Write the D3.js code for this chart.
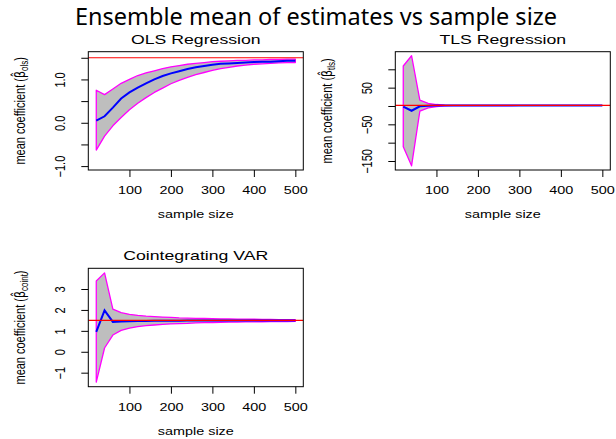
<!DOCTYPE html>
<html>
<head>
<meta charset="utf-8">
<script src="https://cdn.jsdelivr.net/npm/d3@7"></script>
<style>
  body { margin: 0; background: #fff; }
  text { font-family: "Liberation Sans", Arial, sans-serif; fill: #000; }
</style>
</head>
<body>
<div id="chart"></div>
<script>
// sample sizes used in the simulation
var sizes = [20, 40, 60, 80, 100, 120, 140, 160, 180, 200, 220, 240, 260,
             280, 300, 320, 340, 360, 380, 400, 420, 440, 460, 480, 500];

// true coefficient (red line)
var trueBeta = 1.5;

// OLS regression
var olsMean  = [0.05, 0.15, 0.35, 0.56, 0.70, 0.81, 0.91, 1.00, 1.08, 1.14, 1.19, 1.24, 1.28,
                1.31, 1.34, 1.36, 1.37, 1.38, 1.39, 1.40, 1.41, 1.41, 1.42, 1.43, 1.43];
var olsUpper = [0.75, 0.65, 0.78, 0.91, 1.00, 1.09, 1.15, 1.20, 1.25, 1.29, 1.32, 1.35, 1.37,
                1.39, 1.41, 1.42, 1.43, 1.44, 1.44, 1.45, 1.45, 1.46, 1.46, 1.47, 1.47];
var olsLower = [-0.63, -0.31, -0.07, 0.12, 0.30, 0.45, 0.58, 0.70, 0.80, 0.90, 0.98, 1.05, 1.11,
                1.16, 1.21, 1.25, 1.28, 1.31, 1.33, 1.35, 1.36, 1.37, 1.38, 1.39, 1.39];

// TLS regression
var tlsMean  = [-2, -13, -1, 0.5, 1.0, 1.2, 1.3, 1.35, 1.4, 1.42, 1.43, 1.44, 1.45,
                1.45, 1.46, 1.46, 1.47, 1.47, 1.47, 1.48, 1.48, 1.48, 1.48, 1.49, 1.49];
var tlsUpper = [109, 137, 16, 7, 4, 2.4, 1.9, 1.75, 1.68, 1.64, 1.62, 1.6, 1.59,
                1.58, 1.57, 1.56, 1.56, 1.55, 1.55, 1.55, 1.54, 1.54, 1.54, 1.54, 1.53];
var tlsLower = [-111, -163, -14, -5, -1.5, 0.5, 1.0, 1.2, 1.28, 1.32, 1.35, 1.37, 1.39,
                1.4, 1.41, 1.42, 1.42, 1.43, 1.43, 1.44, 1.44, 1.44, 1.45, 1.45, 1.45];

// cointegrating VAR
var varMean  = [0.95, 1.98, 1.43, 1.45, 1.46, 1.47, 1.47, 1.48, 1.48, 1.48, 1.48, 1.49, 1.49,
                1.49, 1.49, 1.49, 1.49, 1.49, 1.5, 1.5, 1.5, 1.5, 1.5, 1.5, 1.5];
var varUpper = [3.38, 3.77, 2.04, 1.87, 1.79, 1.74, 1.70, 1.68, 1.66, 1.64, 1.62, 1.61, 1.60,
                1.59, 1.58, 1.575, 1.57, 1.565, 1.56, 1.555, 1.55, 1.545, 1.54, 1.54, 1.535];
var varLower = [-1.45, 0.18, 0.80, 1.02, 1.13, 1.20, 1.25, 1.28, 1.31, 1.33, 1.35, 1.36, 1.38,
                1.39, 1.40, 1.41, 1.415, 1.42, 1.425, 1.43, 1.435, 1.44, 1.44, 1.445, 1.45];

// tick values / labels
var xTicks = [100, 200, 300, 400, 500];
var olsTicks = [-1, -0.5, 0, 0.5, 1, 1.5];
var olsTickLabels = ["\u22121.0", "", "0.0", "", "1.0", ""];
var tlsTicks = [-150, -100, -50, 0, 50, 100];
var tlsTickLabels = ["\u2212150", "", "\u221250", "", "50", ""];
var varTicks = [-1, 0, 1, 2, 3];
var varTickLabels = ["\u22121", "0", "1", "2", "3"];

var W = 616, H = 439;
var SX = 1.31; // horizontal stretch of the original raster text

var svg = d3.select("#chart").append("svg")
    .attr("width", W).attr("height", H)
    .style("background", "#fff");

svg.append("text")
    .attr("x", 316).attr("y", 24.8)
    .attr("text-anchor", "middle")
    .attr("textLength", 482)
    .attr("lengthAdjust", "spacingAndGlyphs")
    .style("font-family", "'Noto Sans', sans-serif")
    .style("font-size", "23px")
    .text("Ensemble mean of estimates vs sample size");

var panels = [
    {title: "OLS Regression", sub: "ols", left: 88.3, right: 303.3, top: 51.7, bottom: 170,
     ydom: [-1.09, 1.64], ticks: olsTicks, labels: olsTickLabels,
     mean: olsMean, upper: olsUpper, lower: olsLower},
    {title: "TLS Regression", sub: "tls", left: 395.3, right: 610.3, top: 51.7, bottom: 170,
     ydom: [-174.5, 148], ticks: tlsTicks, labels: tlsTickLabels,
     mean: tlsMean, upper: tlsUpper, lower: tlsLower},
    {title: "Cointegrating VAR", sub: "coint", left: 88.3, right: 303.3, top: 268.3, bottom: 386.7,
     ydom: [-1.67, 3.99], ticks: varTicks, labels: varTickLabels,
     mean: varMean, upper: varUpper, lower: varLower}
];

panels.forEach(function(p, i) {
    var x = d3.scaleLinear().domain([0.8, 519.2]).range([p.left, p.right]);
    var y = d3.scaleLinear().domain(p.ydom).range([p.bottom, p.top]);
    var cx = (p.left + p.right) / 2, cy = (p.top + p.bottom) / 2;

    var clipId = "clip" + i;
    svg.append("clipPath").attr("id", clipId)
        .append("rect")
        .attr("x", p.left).attr("y", p.top)
        .attr("width", p.right - p.left).attr("height", p.bottom - p.top);

    var g = svg.append("g").attr("clip-path", "url(#" + clipId + ")");

    // band polygon: upper forward, lower backward
    var pts = sizes.map(function(s, k) { return [x(s), y(p.upper[k])]; })
        .concat(sizes.map(function(s, k) { return [x(s), y(p.lower[k])]; }).reverse());
    g.append("path")
        .attr("d", "M" + pts.join("L") + "Z")
        .attr("fill", "#bebebe")
        .attr("stroke", "#ff00ff")
        .attr("stroke-width", 1.3)
        .attr("stroke-linejoin", "round");

    var line = d3.line()
        .x(function(d) { return x(d[0]); })
        .y(function(d) { return y(d[1]); });
    g.append("path")
        .attr("d", line(d3.zip(sizes, p.mean)))
        .attr("fill", "none")
        .attr("stroke", "#0000ff")
        .attr("stroke-width", 2);

    // true value
    g.append("line")
        .attr("x1", p.left).attr("x2", p.right)
        .attr("y1", y(trueBeta)).attr("y2", y(trueBeta))
        .attr("stroke", "#ff0000")
        .attr("stroke-width", 1.2);

    // box
    svg.append("rect")
        .attr("x", p.left).attr("y", p.top)
        .attr("width", p.right - p.left).attr("height", p.bottom - p.top)
        .attr("fill", "none").attr("stroke", "#000").attr("stroke-width", 1);

    // x axis
    var ax = svg.append("g")
        .attr("transform", "translate(0," + p.bottom + ")")
        .call(d3.axisBottom(x).tickValues(xTicks).tickSize(7).tickFormat(d3.format("d")));
    ax.select(".domain").remove();
    ax.selectAll("text")
        .attr("y", 24).attr("dy", 0)
        .attr("transform", "scale(" + SX + ",1)")
        .style("font-family", "'Liberation Sans', Arial, sans-serif")
        .style("font-size", "11px");

    // y axis
    var ay = svg.append("g")
        .attr("transform", "translate(" + p.left + ",0)")
        .call(d3.axisLeft(y).tickValues(p.ticks).tickSize(7)
            .tickFormat(function(d, k) { return p.labels[k]; }));
    ay.select(".domain").remove();
    ay.selectAll("text")
        .attr("x", 0).attr("y", 0).attr("dy", 0)
        .attr("text-anchor", "middle")
        .attr("transform", "translate(-23,0) scale(" + SX + ",1) rotate(-90)")
        .style("font-family", "'Liberation Sans', Arial, sans-serif")
        .style("font-size", "11px");

    // panel title
    svg.append("text")
        .attr("text-anchor", "middle")
        .attr("transform", "translate(" + cx + "," + (p.top - 8) + ") scale(" + SX + ",1)")
        .style("font-size", "13.5px")
        .text(p.title);

    // x label
    svg.append("text")
        .attr("text-anchor", "middle")
        .attr("transform", "translate(" + cx + "," + (p.bottom + 48) + ") scale(" + SX + ",1)")
        .style("font-size", "11px")
        .text("sample size");

    // y label with hat beta and subscript
    var yl = svg.append("text")
        .attr("text-anchor", "middle")
        .attr("transform", "translate(" + (p.left - 63.5) + "," + cy + ") scale(" + SX + ",1) rotate(-90)")
        .style("font-size", "11px");
    yl.append("tspan").text("mean coefficient (");
    yl.append("tspan").style("font-family", "'DejaVu Sans', sans-serif").text("\u03B2\u0302");
    yl.append("tspan").attr("dy", 2.5).style("font-size", "8px").text(p.sub);
    yl.append("tspan").attr("dy", -2.5).text(")");
});
</script>
</body>
</html>
